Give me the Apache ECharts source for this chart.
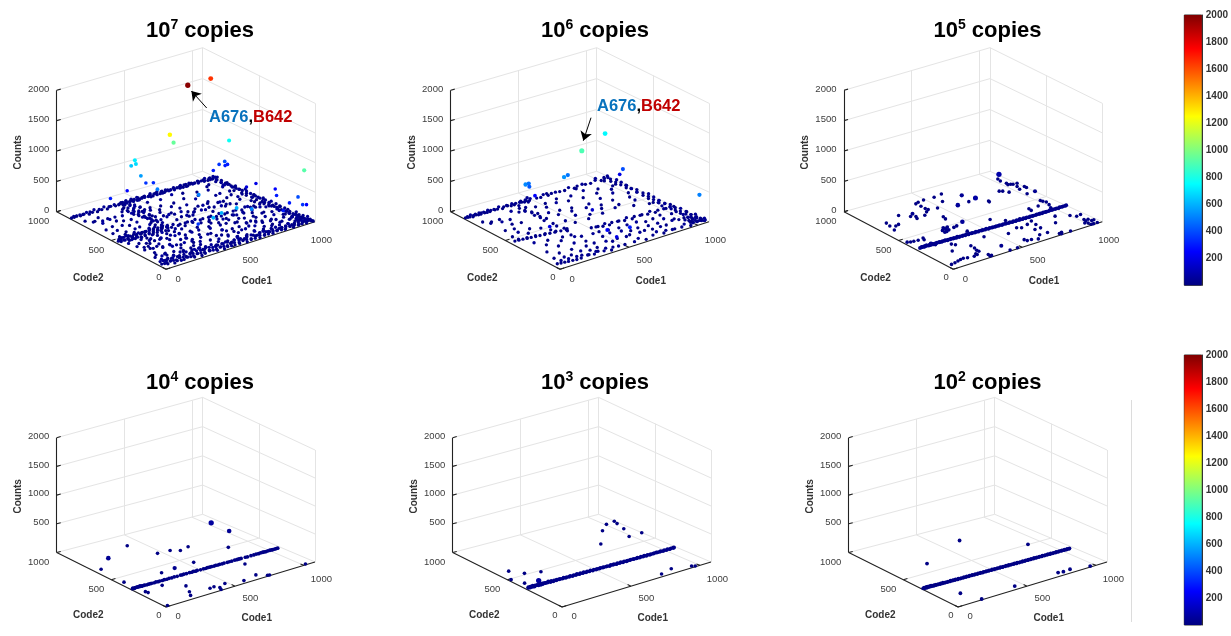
<!DOCTYPE html>
<html><head><meta charset="utf-8"><style>html,body{margin:0;padding:0;background:#fff}#c{width:1231px;height:636px}</style>
<script src="https://cdn.jsdelivr.net/npm/echarts@6/dist/echarts.min.js"></script></head><body><div id="c"></div>
<script>
// each point: [code1, code2, counts]
const e7High=[[676,642,1980],[1030,867,1650],[540,637,1260],[658,748,950],[1038,713,770],[1005,3,920],[443,834,720],[420,839,640],[436,816,680],[418,749,560],[494,797,350],[542,788,330],[405,583,500],[391,840,250],[211,770,300],[1009,767,350],[1034,747,400],[1055,769,300],[1078,775,300],[954,752,300],[1076,520,200],[1012,526,180],[1080,353,250],[994,236,300],[981,105,300],[1018,74,400],[994,3,350],[1066,57,250],[881,38,300],[543,380,500],[348,6,600],[428,31,600],[539,33,600],[650,35,500],[357,154,350]];
const e7LineA=[[3,868],[14,862],[26,872],[38,866],[47,875],[58,860],[70,869],[84,864],[97,872],[112,866],[128,860],[141,870],[155,865],[172,872],[190,862],[208,869],[225,866],[246,873],[262,861],[280,868],[298,875],[315,864],[330,870],[345,860],[358,872],[366,866],[375,858],[386,875],[394,862],[405,870],[416,878],[425,860],[436,868],[447,874],[456,862],[468,870],[480,858],[491,876],[503,866],[515,860],[526,872],[538,864],[551,878],[562,858],[575,868],[588,874],[600,862],[613,870],[627,858],[640,876],[655,865],[668,872],[682,860],[696,868],[710,878],[724,862],[738,870],[752,860],[766,874],[780,866],[795,858],[810,872],[824,864],[840,876],[855,860],[870,868],[885,878],[900,862],[915,870],[930,858],[945,872],[960,866],[975,858],[990,874],[1005,862],[1020,870],[1035,858],[1048,868],[380,882],[400,852],[420,886],[442,850],[462,884],[484,848],[506,882],[528,850],[550,886],[572,846],[594,882],[616,848],[638,886],[660,850],[682,882],[704,846],[726,884],[748,850],[770,886],[792,848],[814,884],[836,850],[858,882],[880,846],[902,886],[924,850],[946,884],[968,848],[990,884],[1012,850],[1034,880],[1050,850]];
const e7LineB=[[18,62],[28,48],[36,70],[44,38],[52,58],[60,72],[70,44],[78,60],[88,30],[96,52],[104,68],[114,40],[122,58],[132,26],[140,50],[150,66],[160,36],[168,54],[178,24],[186,46],[196,62],[206,32],[214,50],[224,20],[234,42],[244,60],[254,30],[264,48],[274,16],[284,38],[294,54],[304,24],[314,42],[324,58],[334,18],[344,36],[354,50],[364,26],[374,44],[384,14],[394,34],[404,52],[414,22],[424,40],[434,12],[444,30],[454,48],[464,20],[474,36],[484,10],[494,28],[504,44],[514,16],[524,34],[534,50],[544,12],[554,28],[564,42],[574,18],[584,32],[596,8],[606,26],[618,40],[630,14],[642,30],[654,8],[666,22],[678,36],[690,10],[702,26],[714,40],[726,14],[738,28],[750,8],[762,24],[774,36],[786,12],[798,26],[810,6],[822,20],[834,32],[846,10],[858,24],[870,6],[882,18],[894,30],[906,10],[918,22],[930,6],[942,16],[954,28],[966,8],[978,18],[990,5],[1002,14],[1014,26],[1026,8],[1038,16],[1050,6],[1062,12],[1072,5],[24,84],[40,92],[62,86],[84,96],[106,82],[128,90],[150,84],[172,94],[194,80],[216,88],[238,78],[260,92],[282,76],[304,84],[326,74],[348,82],[370,70],[392,80],[414,68],[436,76],[458,66],[480,60],[502,70],[524,58],[546,64],[568,56],[590,62],[612,54],[634,60],[656,48],[678,56],[700,46],[722,54],[744,44],[766,50],[788,42],[810,48],[832,46],[854,40],[876,44],[898,38],[920,40],[942,36],[964,40],[986,32],[1008,40],[1030,30],[1052,32]];
const e7LineD=[[1040,860],[1052,838],[1034,822],[1058,806],[1044,790],[1030,775],[1050,760],[1062,742],[1038,726],[1048,708],[1056,692],[1032,678],[1046,660],[1060,645],[1040,628],[1052,612],[1034,596],[1056,580],[1044,565],[1030,550],[1050,536],[1062,520],[1038,505],[1048,490],[1056,476],[1032,462],[1046,448],[1060,434],[1040,420],[1052,406],[1034,392],[1056,378],[1044,364],[1030,350],[1050,338],[1062,324],[1038,310],[1048,298],[1056,284],[1032,270],[1046,256],[1060,244],[1040,232],[1052,218],[1034,206],[1056,194],[1044,182],[1030,170],[1050,158],[1062,146],[1038,134],[1048,122],[1056,110],[1032,98],[1046,88],[1060,76],[1040,66],[1052,54],[1066,42],[1042,32],[1056,22],[1070,14],[1064,850],[1020,810],[1070,770],[1018,730],[1066,690],[1022,650],[1072,610],[1016,570],[1068,530],[1020,490],[1072,450],[1018,412],[1066,372],[1020,334],[1070,296],[1016,260],[1068,226],[1020,190],[1072,156],[1018,124],[1066,92],[1020,58],[1070,30],[1026,100],[1010,72],[1000,50],[1030,44],[1012,32],[990,66],[1034,78],[1076,60],[1076,100],[1074,134],[1002,110]];
const e7LineE=[[18,458],[30,448],[42,466],[54,452],[66,470],[78,444],[90,460],[102,474],[114,450],[126,464],[138,442],[150,458],[162,472],[174,448],[186,462],[198,440],[210,456],[222,470],[234,446],[246,460],[258,438],[270,454],[282,466],[294,444],[306,458],[318,436],[330,452],[344,464],[358,442],[372,454],[388,434],[410,448],[432,428],[456,442],[480,424],[506,436],[530,418],[556,430],[582,414],[610,426],[638,408],[664,420],[692,404],[720,416],[748,398],[776,410],[806,394],[834,404],[866,390],[896,400],[926,386],[958,396],[990,382],[24,440],[36,476],[50,436],[62,482],[76,430],[90,480],[104,432],[118,476],[132,426],[146,478],[160,428],[174,470],[188,424],[202,474],[216,424],[230,470],[244,422],[258,474],[272,420],[286,472],[300,420],[316,470],[332,418],[350,468]];
const e7CrossC=[[372,838],[350,820],[384,806],[358,792],[340,776],[376,762],[362,748],[390,734],[346,722],[370,708],[354,694],[382,680],[338,668],[366,654],[392,640],[352,626],[374,612],[344,598],[360,582],[384,568],[350,552],[368,536],[338,520],[376,502],[356,486],[342,470],[372,452],[358,430],[346,410],[378,388],[354,366],[368,340],[350,318],[374,292],[358,268],[344,244],[366,218],[352,190],[376,160],[356,132],[368,102],[350,74],[400,826],[330,806],[398,780],[326,750],[402,716],[410,796],[420,760],[430,730],[394,690],[326,700],[400,650],[334,630],[404,600],[340,560],[396,540]];
const e7Scatter=[[40,790],[62,742],[88,760],[110,716],[130,782],[150,700],[168,742],[190,690],[210,728],[228,672],[250,710],[268,652],[82,680],[58,620],[120,640],[168,610],[214,600],[260,590],[296,770],[310,700],[430,770],[470,730],[500,790],[540,720],[580,770],[620,700],[670,780],[710,720],[760,790],[800,700],[840,760],[890,720],[930,780],[980,700],[470,640],[520,600],[570,660],[610,560],[650,620],[700,580],[740,650],[790,600],[830,560],[880,640],[920,590],[960,540],[990,650],[440,540],[480,500],[530,520],[590,490],[640,540],[690,500],[740,530],[790,480],[850,510],[900,480],[950,510],[1000,470],[30,380],[52,330],[70,402],[90,360],[110,300],[128,388],[146,330],[165,272],[184,370],[202,310],[220,240],[240,350],[258,290],[276,210],[296,330],[314,260],[332,180],[60,270],[84,210],[106,250],[130,170],[152,220],[176,150],[198,190],[222,120],[244,170],[268,100],[292,140],[316,90],[40,150],[66,120],[92,100],[118,140],[410,370],[440,330],[470,290],[500,340],[530,260],[560,310],[590,230],[620,280],[650,210],[680,330],[710,260],[740,190],[770,300],[800,230],[830,160],[860,280],[890,210],[920,150],[950,330],[980,260],[1005,190],[420,210],[450,160],[480,120],[510,180],[540,110],[570,150],[600,100],[630,130],[660,90],[690,140],[720,100],[750,130],[780,90],[810,120],[840,90],[870,120],[900,90],[930,110],[960,80],[990,110],[430,80],[460,100],[520,90],[580,80],[640,70],[700,70],[760,70],[820,70],[880,70],[940,70],[1000,60],[1020,130],[1010,300],[1020,380],[1000,440],[900,340],[780,370],[700,370],[620,380],[545,490],[455,590],[405,630],[440,690],[500,680],[560,560],[600,620],[660,500],[720,470],[770,520],[820,480],[870,560],[910,640],[960,600],[1000,720],[960,800],[120,430],[150,410],[180,400],[215,395],[245,385],[275,380],[305,375],[128,340],[158,350],[192,345],[228,330],[262,320],[305,300],[80,300],[100,270],[140,260],[175,250],[210,230],[248,215],[285,190],[320,150],[70,180],[110,150],[150,120],[190,110],[230,130],[270,80],[600,200],[630,170],[670,150],[700,210],[730,160],[760,220],[790,170],[820,210],[850,190],[880,150],[910,180],[945,200],[975,150],[1000,220],[640,320],[670,290],[705,310],[735,270],[765,340],[795,280],[825,330],[855,250],[885,320],[915,270],[945,290],[985,320],[600,340],[570,200],[540,170],[510,230],[480,220],[450,260],[420,290],[460,400],[510,400],[560,380],[610,370],[660,360],[720,350],[780,330],[840,340],[900,380],[950,370],[60,560],[100,570],[140,540],[190,520],[240,540],[290,510],[60,500],[110,510],[160,490],[210,480],[260,480],[310,490],[470,560],[520,570],[570,500],[620,520],[670,570],[720,560],[770,580],[820,530],[870,500]].map(function(p,i){return [p[0],p[1],[18,34,12,46,26,60,22][i%7]]});
const e7Pts=e7Scatter.concat(e7LineA.map(function(p,i){return [p[0],p[1],[20,45,12,30][i%4]]}),e7LineB.map(function(p,i){return [p[0],p[1],[14,30,50,22][i%4]]}),e7LineD.map(function(p,i){return [p[0],p[1],[25,12,40][i%3]]}),e7LineE.map(function(p,i){return [p[0],p[1],[16,36,24][i%3]]}),e7CrossC.map(function(p,i){return [p[0],p[1],[30,14,42][i%3]]}),e7High);

const e6High=[[1041,877,740],[676,642,900],[317,709,520],[368,743,470],[370,740,420],[553,651,540],[623,703,480],[978,642,400],[1032,736,200],[1014,3,500],[409,737,250],[425,103,250],[433,27,200],[524,21,300],[596,449,150],[223,373,200]];
const e6Line=[[4,870],[14,864],[24,872],[34,866],[44,874],[54,862],[64,870],[74,866],[84,874],[94,862],[104,870],[114,866],[124,874],[134,864],[146,870],[158,862],[170,872],[182,866],[194,874],[208,862],[222,870],[238,866],[254,876],[270,860],[288,872],[304,866],[320,876],[334,860],[346,870],[362,866],[378,874],[396,860],[420,872],[432,860],[444,868],[456,876],[468,860],[480,868],[530,870],[552,860],[580,872],[610,864],[640,872],[660,860],[700,870],[730,862],[765,870],[800,860],[830,872],[860,864],[890,870],[920,860],[960,868],[1000,862],[1030,870],[1046,858],[425,886],[450,848],[474,888],[620,890],[800,844],[980,890],[1010,846],[1040,886],[1060,880]];
const e6LineD=[[1050,840],[1036,820],[1062,800],[1044,786],[1030,770],[1058,754],[1040,736],[1066,716],[1048,700],[1034,680],[1056,664],[1040,640],[1064,622],[1046,600],[1032,582],[1058,560],[1042,540],[1066,520],[1048,500],[1034,482],[1056,462],[1040,444],[1064,424],[1046,404],[1032,386],[1058,366],[1042,346],[1066,326],[1048,306],[1034,290],[1056,270],[1040,250],[1064,232],[1046,212],[1032,194],[1058,176],[1042,158],[1066,140],[1048,122],[1034,104],[1056,88],[1042,72],[1064,56],[1048,40],[1034,24],[1058,12],[1018,420],[1022,380],[1016,340],[1070,300],[1018,260],[1022,220],[1074,190],[1016,150],[1020,110],[1000,80],[1010,60],[1022,50],[1000,40],[1072,110],[1016,30],[990,54]];
const e6LineE=[[500,340],[520,322],[545,335],[566,316],[590,330],[612,314],[640,328],[668,310],[690,326],[716,306],[742,322],[770,304],[796,318],[824,300],[850,316],[878,298],[904,312],[932,296],[960,308],[990,292],[1016,304],[30,450],[48,436],[66,462],[84,444],[102,428],[120,452],[138,436],[158,420],[176,444],[196,428],[218,412],[240,436],[262,420],[286,404],[310,426],[334,410],[360,392],[384,416]];
const e6LineB=[[28,60],[44,46],[60,66],[76,52],[92,38],[110,60],[128,44],[146,30],[166,56],[186,40],[206,60],[228,34],[250,50],[272,28],[296,44],[320,56],[344,30],[368,46],[392,22],[416,40],[444,24],[500,36],[560,24],[600,40],[640,18],[700,32],[740,50],[775,26],[800,40],[830,18],[860,34],[900,20],[930,36],[960,14],[985,28],[1010,18],[1030,40],[1046,22],[1060,8],[1000,60],[1022,74],[1044,64],[1066,50],[980,90],[1010,102],[1036,96],[1058,84],[1072,30]];
const e6Cross=[[366,830],[350,806],[380,786],[356,764],[342,744],[374,724],[360,704],[388,686],[348,666],[370,644],[354,620],[382,600],[344,574],[366,520],[352,470],[374,430],[358,380],[344,330],[372,270],[356,210],[368,150],[350,100]];
const e6Scatter=[[50,770],[70,720],[96,746],[128,690],[150,740],[170,650],[196,700],[230,640],[268,780],[310,760],[80,600],[130,580],[60,510],[110,520],[160,490],[210,540],[260,500],[300,460],[90,350],[140,300],[190,350],[240,290],[290,340],[330,280],[80,220],[130,170],[180,240],[220,170],[270,210],[310,150],[60,130],[110,100],[170,110],[230,100],[290,90],[440,770],[480,720],[520,780],[560,730],[610,790],[650,730],[700,770],[750,720],[800,780],[850,720],[900,770],[950,710],[1000,760],[430,640],[470,600],[520,650],[560,590],[600,640],[650,570],[710,620],[760,570],[810,640],[860,590],[910,650],[960,560],[1000,620],[440,500],[480,460],[530,520],[570,450],[620,500],[680,460],[730,530],[780,470],[840,510],[900,450],[950,500],[990,420],[440,250],[470,200],[500,270],[530,210],[560,260],[590,180],[620,240],[650,170],[680,240],[710,180],[740,230],[770,160],[800,220],[830,150],[860,230],[890,170],[920,240],[950,150],[980,210],[1005,130],[430,120],[470,110],[520,130],[570,110],[610,130],[660,100],[710,120],[760,110],[810,100],[860,110],[910,120],[960,120]].map(function(p,i){return [p[0],p[1],[16,30,12,44,22][i%5]]});
const e6Pts=e6Scatter.concat(e6Line.map(function(p,i){return [p[0],p[1],[20,38,14][i%3]]}),e6LineD.map(function(p,i){return [p[0],p[1],[24,12,40][i%3]]}),e6LineE.map(function(p,i){return [p[0],p[1],[18,34,12][i%3]]}),e6LineB.map(function(p,i){return [p[0],p[1],[14,28,40][i%3]]}),e6Cross.map(function(p,i){return [p[0],p[1],[30,16][i%2]]}),e6High);

const e5Sparse=[[1041,872,80],[708,678,70],[571,669,50],[689,778,40],[437,463,50],[1066,581,30],[1032,871,10],[1024,839,10],[1028,790,10],[1022,769,10],[1038,764,10],[1048,755,10],[1076,753,10],[1044,714,10],[1029,673,10],[1077,689,10],[1076,669,10],[1017,592,10],[918,721,10],[934,709,10],[953,675,10],[624,882,10],[559,868,10],[557,790,10],[678,701,10],[774,641,10],[769,628,10],[484,872,10],[437,863,10],[411,852,10],[412,807,10],[292,736,30],[268,724,10],[293,706,10],[280,680,10],[221,775,10],[411,767,10],[415,745,10],[386,724,10],[346,691,10],[474,733,10],[417,611,10],[408,580,10],[93,728,10],[83,684,10],[139,674,10],[111,664,10],[68,624,10],[310,479,20],[312,460,20],[335,474,20],[283,452,20],[279,426,20],[317,438,20],[293,427,20],[366,452,15],[393,460,15],[20,447,10],[38,438,10],[59,435,10],[87,430,10],[120,417,10],[130,439,10],[107,340,30],[128,324,10],[66,343,10],[206,276,10],[149,197,10],[219,255,10],[280,191,10],[276,153,10],[265,120,10],[267,102,10],[230,84,10],[203,64,10],[231,72,10],[136,80,10],[113,76,10],[87,67,10],[59,59,10],[29,53,10],[159,70,10],[281,34,10],[287,12,10],[274,10,10],[405,71,30],[416,5,10],[470,5,10],[572,72,10],[577,50,10],[605,47,10],[641,30,10],[685,72,10],[713,149,10],[763,203,10],[752,147,10],[669,215,10],[648,234,10],[726,234,10],[775,258,10],[559,198,10],[420,246,10],[395,367,10],[605,420,10],[665,355,10],[745,326,10],[881,410,10],[875,382,10],[947,408,10],[1010,466,10],[1014,448,10],[1023,428,10],[1009,386,10],[985,342,10],[782,15,10],[803,22,10],[789,4,10],[853,3,10],[1018,151,10],[1050,156,10],[925,230,10],[865,152,10],[740,70,10],[996,184,10],[1018,86,10],[1011,61,10],[988,42,10],[1038,74,10],[1042,47,10],[1057,46,10],[1005,5,10],[1020,3,10],[1004,31,10],[1047,3,10]];
const e5Line=[[21,331,22],[30,328,30],[38,334,26],[46,326,32],[55,331,24],[64,328,36],[72,333,28],[80,325,30],[90,330,26],[98,327,24],[108,332,30],[116,325,26],[126,329,22],[135,326,28],[145,331,24],[155,324,30],[164,329,26],[174,325,24],[184,330,22],[194,324,28],[204,328,26],[214,323,24],[224,328,22],[234,322,28],[245,327,24],[256,322,26],[266,326,24],[277,321,22],[288,325,28],[298,320,24],[309,325,22],[320,319,26],[331,324,24],[342,319,22],[353,323,26],[364,318,22],[375,322,24],[386,317,28],[398,321,22],[410,316,24],[421,320,26],[433,315,22],[445,319,24],[457,314,26],[469,318,22],[481,313,24],[493,317,26],[505,312,22],[517,316,24],[529,311,26],[541,315,22],[553,310,24],[565,314,22],[577,309,26],[589,313,24],[601,308,22],[613,312,24],[625,307,26],[637,311,22],[649,306,24],[661,310,26],[673,305,22],[685,309,24],[697,304,22],[709,308,26],[721,303,24],[733,307,22],[745,302,24],[757,306,26],[769,303,22],[781,307,24],[793,302,22],[805,306,24],[817,301,26],[829,305,22],[841,302,24],[853,306,22],[865,301,26],[877,305,24],[889,302,22],[901,306,24],[913,301,26],[925,305,22],[937,302,24],[949,306,26],[961,303,24],[973,307,22],[985,303,26],[997,306,24],[1009,303,22],[1021,307,24],[1033,303,26],[1045,306,24],[1057,303,26],[1068,306,28]];

const e4Sparse=[[992,817,60],[999,665,40],[845,485,10],[670,632,10],[597,612,10],[550,647,10],[464,655,10],[398,848,10],[170,739,40],[46,651,10],[540,422,10],[753,223,10],[387,405,30],[293,407,10],[31,423,10],[177,257,10],[694,52,10],[587,27,10],[476,61,10],[741,5,10],[753,2,10],[1014,3,10],[279,168,10],[240,88,10],[211,41,10],[365,57,10],[397,61,10],[415,30,10],[402,3,10],[41,240,10],[45,220,10],[15,6,10]];
const e4Line=[[8,317,12],[14,320,14],[20,315,12],[27,318,14],[34,321,10],[40,316,18],[48,319,14],[56,315,16],[64,318,20],[72,314,14],[80,317,12],[90,315,14],[100,318,12],[112,314,10],[124,316,12],[136,313,14],[150,316,10],[164,313,12],[178,315,14],[192,312,12],[206,315,10],[222,312,12],[238,314,14],[254,311,12],[272,313,14],[290,311,12],[310,313,14],[330,311,10],[355,312,14],[366,310,12],[380,313,12],[396,309,14],[420,311,14],[434,309,12],[448,311,14],[462,308,12],[475,310,14],[498,308,10],[520,309,12],[534,307,10],[548,309,12],[562,306,14],[578,308,12],[594,306,12],[608,307,14],[622,305,10],[636,307,12],[652,304,12],[668,306,12],[690,304,12],[706,305,10],[722,303,12],[744,304,14],[758,302,12],[770,304,14],[778,302,14],[790,303,12],[820,302,12],[834,300,10],[860,301,12],[880,300,12],[898,301,14],[914,299,12],[930,300,14],[944,298,16],[956,299,14],[968,298,12],[982,299,14],[996,298,16],[1008,297,14],[1018,298,12],[1030,297,14],[1042,298,12],[1052,297,14]];

const e3Sparse=[[1071,849,10],[1059,810,10],[1003,837,10],[917,768,10],[1035,721,10],[978,604,10],[1073,607,10],[774,609,10],[82,590,10],[135,512,10],[226,475,10],[13,482,10],[43,396,10],[105,345,60],[953,16,10],[968,2,10],[838,56,10],[745,28,10]];
const e3Line=[[13,325,14],[18,330,18],[24,321,16],[30,327,20],[36,332,14],[42,322,18],[48,328,24],[54,320,16],[60,326,20],[66,331,14],[72,322,22],[78,327,16],[84,320,18],[92,326,24],[100,319,16],[108,325,20],[116,321,14],[124,327,18],[132,319,22],[140,325,16],[150,320,18],[160,326,22],[170,318,16],[180,324,20],[190,318,14],[200,323,18],[210,317,20],[220,323,16],[232,317,22],[244,322,14],[256,316,18],[268,321,20],[280,316,16],[292,321,14],[304,315,18],[316,320,20],[328,314,14],[340,319,18],[352,314,16],[364,319,20],[376,313,14],[388,318,18],[400,312,16],[412,317,20],[424,312,14],[436,316,18],[448,311,16],[460,316,20],[472,310,14],[484,315,18],[496,310,16],[508,314,14],[520,309,18],[532,314,16],[544,308,20],[556,313,14],[568,308,18],[580,312,16],[592,306,14],[604,311,18],[616,306,20],[628,311,16],[640,305,14],[652,310,18],[664,305,16],[676,309,20],[688,304,14],[700,309,18],[712,303,16],[724,308,14],[736,304,18],[748,308,16],[760,303,20],[772,307,14],[784,302,18],[796,307,16],[808,302,14],[820,306,18],[832,301,16],[844,306,20],[856,301,14],[868,305,18],[880,300,16],[892,305,14],[904,300,18],[916,304,16],[928,300,20],[940,304,14],[952,299,18],[964,304,16],[976,299,14],[988,303,18],[1000,298,16],[1012,303,20],[1024,298,14],[1036,302,18],[1048,297,22],[1058,301,18]];

const e2Sparse=[[639,779,10],[910,496,10],[259,606,10],[963,5,10],[845,40,10],[793,35,10],[761,43,10],[442,38,10],[131,143,10],[174,3,10]];
const e2Line=[[8,329,8],[13,324,10],[18,332,9],[23,326,12],[28,321,10],[33,330,12],[38,325,9],[44,332,8],[49,323,11],[55,328,14],[61,322,12],[67,330,10],[73,325,9],[80,321,8],[87,328,10],[94,323,9],[101,327,8],[109,321,10],[117,326,8],[125,320,9],[133,325,10],[141,320,8],[149,325,11],[158,319,9],[167,324,8],[176,319,10],[185,323,9],[194,318,8],[203,323,10],[212,318,9],[221,322,8],[230,317,10],[239,322,9],[249,316,8],[259,321,10],[269,316,9],[279,320,8],[289,315,10],[299,320,9],[309,315,8],[319,319,10],[329,314,9],[339,319,8],[349,314,10],[359,318,9],[369,313,8],[379,317,10],[389,312,9],[399,317,8],[409,312,10],[419,316,9],[429,311,8],[439,316,10],[449,311,9],[459,315,8],[469,310,10],[479,315,9],[489,309,8],[499,314,10],[509,309,9],[519,313,8],[529,308,10],[539,313,9],[549,308,8],[559,312,10],[569,307,9],[579,312,8],[589,307,10],[599,311,9],[609,306,8],[619,311,10],[629,306,9],[639,310,8],[649,305,10],[659,309,9],[669,304,8],[679,309,10],[689,304,9],[699,308,8],[709,303,10],[719,308,9],[729,303,8],[739,307,10],[749,302,9],[759,307,8],[769,302,10],[779,306,9],[789,301,8],[799,306,10],[809,301,9],[819,305,8],[829,300,10],[839,305,9],[849,300,8],[859,304,10],[869,299,9],[879,304,8],[889,299,10],[899,303,9],[909,298,8],[919,303,10],[929,298,9],[939,302,8],[949,297,10],[959,302,9],[969,297,8],[979,301,10],[989,296,9],[999,301,8],[1009,296,10],[1018,300,9],[1027,295,8],[1036,300,10],[1045,295,9],[1052,299,10]];

const panelPoints=[e7Pts,e6Pts,e5Sparse.concat(e5Line),e4Sparse.concat(e4Line),e3Sparse.concat(e3Line),e2Sparse.concat(e2Line)];
const panelExps=['7','6','5','4','3','2'];
const panelMax=[2000,1000,80,60,60,40];
const zTicks=[0,500,1000,1500,2000];
const codeTicks=[0,500,1000];
const colorTicks=[200,400,600,800,1000,1200,1400,1600,1800,2000];
const jet=['#000080','#0000ff','#00ffff','#ffff00','#ff0000','#800000'];
const jetStops=[0,0.125,0.375,0.625,0.875,1];

const C1MAX=1081,C2MAX=1000,ZMAX=2000;
const L=[56.7,211.7],B=[166,269.3],R=[315,221.7],K=[202.7,171.3];
const HL=121.4,HB=120,HR=118.4,HK=123.6;
const offsets=[[0,0],[394,0],[787.3,0],[0,352.3],[396,352.3],[792,352.3]];
const titleX=[200,595,987.5,200,595,987.5],titleY=[18,18,18,370,370,370];
const FF='Liberation Sans';

function proj(c1,c2,z){
  const u=c1/C1MAX,v=c2/C2MAX;
  const a=(1-u)*(1-v),b=u*(1-v),c=u*v,d=(1-u)*v;
  return [a*B[0]+b*R[0]+c*K[0]+d*L[0],
          a*B[1]+b*R[1]+c*K[1]+d*L[1]-(z/ZMAX)*(a*HB+b*HR+c*HK+d*HL)];
}
const seg=function(a,b){return {coords:[proj(a[0],a[1],a[2]),proj(b[0],b[1],b[2])]}};
const grids=[],xAxes=[],yAxes=[],series=[],titles=[],pointSeries=[];
offsets.forEach(function(o,i){
  grids.push({left:o[0],top:o[1],width:340,height:300});
  xAxes.push({type:'value',gridIndex:i,min:0,max:340,show:false});
  yAxes.push({type:'value',gridIndex:i,min:0,max:300,inverse:true,show:false});
  const wall=[],dark=[];
  zTicks.forEach(function(z){
    wall.push(seg([0,C2MAX,z],[C1MAX,C2MAX,z]));
    wall.push(seg([C1MAX,C2MAX,z],[C1MAX,0,z]));
  });
  [500,1000,C1MAX].forEach(function(c){wall.push(seg([c,C2MAX,0],[c,C2MAX,ZMAX]));});
  [500,0].forEach(function(c){wall.push(seg([C1MAX,c,0],[C1MAX,c,ZMAX]));});
  [500,1000].forEach(function(c){wall.push(seg([c,0,0],[c,C2MAX,0]));});
  wall.push(seg([0,500,0],[C1MAX,500,0]));
  dark.push(seg([0,C2MAX,0],[0,C2MAX,ZMAX]));
  dark.push(seg([0,0,0],[0,C2MAX,0]));
  dark.push(seg([0,0,0],[C1MAX,0,0]));
  zTicks.forEach(function(z){if(i>2&&z===0)return;dark.push(seg([0,C2MAX,z],[30,C2MAX,z]));});
  codeTicks.forEach(function(c){
    dark.push(seg([c,0,0],[c,30,0]));
    dark.push(seg([0,c,0],[30,c,0]));
  });
  series.push({type:'lines',coordinateSystem:'cartesian2d',xAxisIndex:i,yAxisIndex:i,silent:true,z:1,data:wall,lineStyle:{color:'#e4e4e4',width:1,opacity:1}});
  series.push({type:'lines',coordinateSystem:'cartesian2d',xAxisIndex:i,yAxisIndex:i,silent:true,z:2,data:dark,lineStyle:{color:'#222',width:1.1,opacity:1}});
  const mx=panelMax[i];
  pointSeries.push(series.length);
  series.push({type:'scatter',xAxisIndex:i,yAxisIndex:i,z:3,silent:true,symbol:'circle',
    data:panelPoints[i].map(function(p){const q=proj(p[0],p[1],p[2]);return [q[0],q[1],p[2]];}),
    symbolSize:function(v){return 3.3+2*Math.min(1,v[2]/mx);},
    itemStyle:{opacity:1}});
  const texts=[];
  const t=function(pos,s,align,size,bold,color,rot){
    texts.push({value:pos,label:{show:true,position:'inside',formatter:s,align:align,verticalAlign:'middle',
      fontFamily:FF,fontSize:size,fontWeight:bold?'bold':'normal',color:color,rotate:rot||0,textBorderWidth:0,opacity:1}});
  };
  zTicks.forEach(function(z){
    if(i>2&&z===0)return;
    const p=proj(0,C2MAX,z);t([p[0]-7.5,p[1]-1.3],String(z),'right',9.5,false,'#3c3c3c');
  });
  [[0,-4.5,8.5],[500,-7,9.7],[1000,-7.5,10]].forEach(function(a){
    const p=proj(0,a[0],0);t([p[0]+a[1],p[1]+a[2]],String(a[0]),'right',9.5,false,'#3c3c3c');
  });
  [[0,9.5,10],[500,7.5,12.7],[1000,7,14.7]].forEach(function(a){
    const p=proj(a[0],0,0);t([p[0]+a[1],p[1]+a[2]],String(a[0]),'left',9.5,false,'#3c3c3c');
  });
  t([18.3,152.3],'Counts','center',10,true,'#333',90);
  t([88.3,278.3],'Code2','center',10,true,'#333');
  t([256.7,281.7],'Code1','center',10,true,'#333');
  series.push({type:'scatter',xAxisIndex:i,yAxisIndex:i,z:5,silent:true,symbolSize:1,itemStyle:{color:'rgba(0,0,0,0)',opacity:1},data:texts});
  titles.push({left:titleX[i],top:titleY[i],textAlign:'center',padding:0,
    text:'{b|10}{s|'+panelExps[i]+'}{b| copies}',
    textStyle:{rich:{b:{fontFamily:FF,fontWeight:'bold',fontSize:22,color:'#000',lineHeight:26},
      s:{fontFamily:FF,fontWeight:'bold',fontSize:14,color:'#000',lineHeight:26,verticalAlign:'top'}}}});
});
// annotations
const annot=[{panel:0,label:[209,117.7],arrow:[[206.7,108],[191.4,91]]},{panel:1,label:[203,106.7],arrow:[[197,117.7],[189.3,140.7]]}];
annot.forEach(function(a){
  series.push({type:'lines',coordinateSystem:'cartesian2d',xAxisIndex:a.panel,yAxisIndex:a.panel,silent:true,z:6,
    symbol:['none','arrow'],symbolSize:9,data:[{coords:a.arrow}],lineStyle:{color:'#000',width:1,opacity:1}});
  const rs=function(c){return {color:c,fontFamily:FF,fontWeight:'bold',fontSize:16.5,textBorderWidth:0};};
  series.push({type:'scatter',xAxisIndex:a.panel,yAxisIndex:a.panel,z:6,silent:true,symbolSize:1,itemStyle:{color:'rgba(0,0,0,0)',opacity:1},
    data:[{value:a.label,label:{show:true,position:'inside',align:'left',verticalAlign:'middle',opacity:1,textBorderWidth:0,formatter:'{a|A676}{c|,}{r|B642}',
      rich:{a:rs('#0872bd'),c:rs('#000'),r:rs('#c00000')}}}]});
});
// colour bars
[[15,285.3],[355,625]].forEach(function(r){
  const i=grids.length;
  grids.push({left:1184.3,top:r[0],width:19,height:r[1]-r[0],show:true,borderColor:'#333',borderWidth:1,backgroundColor:'#000'});
  xAxes.push({type:'category',gridIndex:i,data:['counts'],show:false});
  yAxes.push({type:'value',gridIndex:i,min:0,max:2000,interval:200,position:'right',splitLine:{show:false},
    axisLine:{show:true,onZero:false,lineStyle:{color:'#333'}},axisTick:{show:true,inside:true,length:2,lineStyle:{color:'#333'}},
    axisLabel:{show:true,margin:4,fontFamily:FF,fontSize:10,fontWeight:'bold',color:'#333',showMinLabel:false,
      formatter:function(v){return colorTicks.indexOf(v)>=0?String(v):'';}}});
  series.push({type:'bar',xAxisIndex:i,yAxisIndex:i,barWidth:'100%',silent:true,data:[2000],
    itemStyle:{color:{type:'linear',x:0,y:1,x2:0,y2:0,colorStops:jetStops.map(function(s,k){return {offset:s,color:jet[k]};})}}});
});
const chart=echarts.init(document.getElementById('c'),null,{renderer:'canvas'});
chart.setOption({animation:false,backgroundColor:'#fff',title:titles,grid:grids,xAxis:xAxes,yAxis:yAxes,
  visualMap:{type:'continuous',show:false,min:1,max:2000,dimension:2,seriesIndex:pointSeries,inRange:{color:['#000080','#0000ff','#0080ff','#00ffff','#80ff80','#ffff00','#ff8000','#ff0000','#800000']}},
  graphic:[{type:'line',shape:{x1:1131.5,y1:400,x2:1131.5,y2:622},style:{stroke:'#dcdcdc',lineWidth:1},silent:true}],
  series:series});
</script></body></html>
